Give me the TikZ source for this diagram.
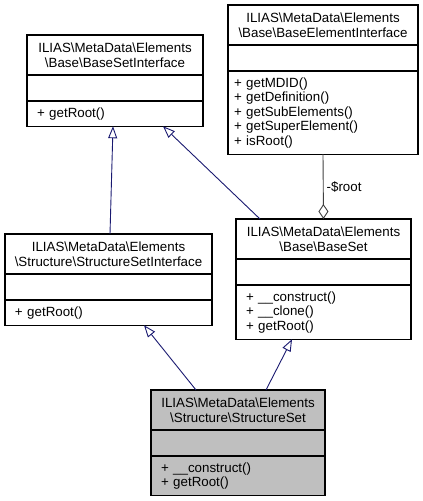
\documentclass[tikz,border=0pt]{standalone}
\usepackage{fontspec}
\setmainfont{Liberation Sans}
\usetikzlibrary{positioning,arrows.meta}

\definecolor{midnightblue}{HTML}{191970}
\definecolor{grey25}{HTML}{404040}
\definecolor{grey75}{HTML}{BFBFBF}

\tikzset{
  classhead/.style={draw, line width=1.2pt, outer sep=0pt, inner xsep=4pt, align=center, minimum height=40pt, fill=white},
  classattr/.style={draw, line width=1.2pt, outer sep=0pt, minimum height=26pt, fill=white},
  classops/.style={draw, line width=1.2pt, outer sep=0pt, inner xsep=10pt, inner ysep=6.4pt, align=left, fill=white},
  inherit/.style={draw=midnightblue, line width=0.9pt, -{Triangle[open,length=12pt,width=9pt]}},
  aggreg/.style={draw=grey25, line width=0.9pt, -{Diamond[open,length=15pt,width=10pt]}},
}

\begin{document}
\begin{tikzpicture}[x=1pt, y=-1pt, font=\fontsize{13.33pt}{14.5pt}\selectfont]
	\useasboundingbox (0,0) rectangle (423,501);
	
	% Base\BaseSetInterface
	\node[classhead, anchor=north west, text width=168pt] (bsiH) at (27,35) {ILIAS\textbackslash MetaData\textbackslash Elements\\\textbackslash Base\textbackslash BaseSetInterface};
	\node[classattr, minimum width=176pt, below=0pt of bsiH] (bsiA) {};
	\node[classops, text width=156pt, below=0pt of bsiA] (bsiM) {+ getRoot()};
	
	% Base\BaseElementInterface
	\node[classhead, anchor=north west, text width=182pt] (beiH) at (228,5) {ILIAS\textbackslash MetaData\textbackslash Elements\\\textbackslash Base\textbackslash BaseElementInterface};
	\node[classattr, minimum width=190pt, below=0pt of beiH] (beiA) {};
	\node[classops, inner xsep=6pt, text width=178pt, below=0pt of beiA] (beiM) {+ getMDID()\\+ getDefinition()\\+ getSubElements()\\+ getSuperElement()\\+ isRoot()};
	
	% Structure\StructureSetInterface
	\node[classhead, anchor=north west, text width=199pt] (ssiH) at (5,234) {ILIAS\textbackslash MetaData\textbackslash Elements\\\textbackslash Structure\textbackslash StructureSetInterface};
	\node[classattr, minimum width=207pt, below=0pt of ssiH] (ssiA) {};
	\node[classops, text width=187pt, below=0pt of ssiA] (ssiM) {+ getRoot()};
	
	% Base\BaseSet
	\node[classhead, anchor=north west, text width=167pt] (bsH) at (236,219) {ILIAS\textbackslash MetaData\textbackslash Elements\\\textbackslash Base\textbackslash BaseSet};
	\node[classattr, minimum width=175pt, below=0pt of bsH] (bsA) {};
	\node[classops, text width=155pt, below=0pt of bsA] (bsM) {+ \_\_construct()\\+ \_\_clone()\\+ getRoot()};
	
	% Structure\StructureSet
	\node[classhead, fill=grey75, anchor=north west, text width=166pt] (ssH) at (151,390) {ILIAS\textbackslash MetaData\textbackslash Elements\\\textbackslash Structure\textbackslash StructureSet};
	\node[classattr, fill=grey75, minimum width=174pt, below=0pt of ssH] (ssA) {};
	\node[classops, fill=grey75, text width=154pt, below=0pt of ssA] (ssM) {+ \_\_construct()\\+ getRoot()};
	
	\draw[inherit] ([xshift=1.5pt]ssiH.north) -- ([xshift=-2pt]bsiM.south);
	\draw[inherit] ([xshift=-63.5pt]bsH.north) -- ([xshift=48pt]bsiM.south);
	\draw[aggreg] (beiM.south) -- (bsH.north) node[midway, right, text=black, inner xsep=3pt] (rootlbl) {-\$root};
	\draw[inherit] ([xshift=-42pt]ssH.north) -- ([xshift=35.5pt]ssiM.south);
	\draw[inherit] ([xshift=28pt]ssH.north) -- ([xshift=-31.5pt]bsM.south);
	
\end{tikzpicture}
\end{document}
